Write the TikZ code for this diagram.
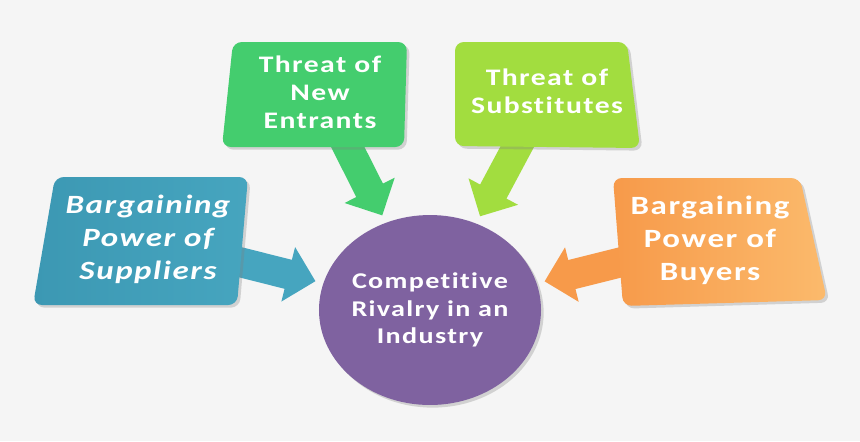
\documentclass[tikz,border=0pt]{standalone}
\usepackage{fontspec}
\usetikzlibrary{shapes.geometric,arrows.meta,shadows}
\newfontfamily\forcefont[FakeStretch=1.25,LetterSpace=6,Ligatures=NoCommon]{Carlito}
\definecolor{bgcol}{HTML}{F5F5F5}
\definecolor{supblue}{HTML}{46A5BF}
\definecolor{supdark}{HTML}{3C98B3}
\definecolor{entgreen}{HTML}{44CD6E}
\definecolor{sublime}{HTML}{A2DD3F}
\definecolor{buyorange}{HTML}{F79A4A}
\definecolor{buylight}{HTML}{FBBA6C}
\definecolor{rivpurple}{HTML}{7F62A0}
\pgfdeclarelayer{bg}
\pgfdeclarelayer{arr}
\pgfsetlayers{bg,arr,main}

\begin{document}
\begin{tikzpicture}[x=0.02cm,y=-0.02cm,
    boxtext/.style={text=white,align=center,inner sep=0pt,
      font=\forcefont\bfseries\fontsize{13.5}{16}\selectfont},
    sidetext/.style={boxtext,font=\forcefont\bfseries\fontsize{15}{18.7}\selectfont},
    panel/.style={rounded corners=5pt,
      drop shadow={shadow xshift=1.5pt,shadow yshift=-1.5pt,opacity=0.3}},
    fatarrow/.style={line width=17pt,-{Triangle[length=16pt,width=31pt]},shorten >=4.5pt}]
    % Background
    \begin{pgfonlayer}{bg}
      \fill[bgcol] (0,0) rectangle (860,441);
    \end{pgfonlayer}
    % Centre circle
    \node[ellipse,fill=rivpurple,boxtext,minimum width=4.28cm,minimum height=3.8cm,
      font=\forcefont\bfseries\fontsize{12.8}{15.8}\selectfont,
      drop shadow={shadow xshift=1.5pt,shadow yshift=-1.5pt,opacity=0.3}]
      (rival) at (430,310) {Competitive\\Rivalry in an\\Industry};
    % Four forces
    \path[panel,left color=supdark,right color=supblue]
      (55,177) -- (248,177) -- (237,305) -- (33,305) -- cycle;
    \node[sidetext] (sup) at (148,239) {\itshape Bargaining\\\itshape Power of\\\itshape Suppliers};
    \fill[panel,entgreen] (233,42) -- (407,42) -- (404,147) -- (222,147) -- cycle;
    \node[boxtext] (ent) at (320,92) {Threat of\\New\\Entrants};
    \fill[panel,sublime] (455,42) -- (627,42) -- (640,148) -- (455,146) -- cycle;
    \node[boxtext] (subs) at (547,91) {Threat of\\Substitutes};
    \path[panel,left color=buyorange,right color=buylight]
      (613,178) -- (800,178) -- (827,300) -- (623,306) -- cycle;
    \node[sidetext] (buy) at (710,240) {Bargaining\\Power of\\Buyers};
    % Arrows into the circle
    \begin{pgfonlayer}{arr}
      \draw[fatarrow,supblue] (sup) -- (rival);
      \draw[fatarrow,entgreen] (ent) -- (rival);
      \draw[fatarrow,sublime] (subs) -- (rival);
      \draw[fatarrow,buyorange] (buy) -- (rival);
    \end{pgfonlayer}
\end{tikzpicture}
\end{document}
